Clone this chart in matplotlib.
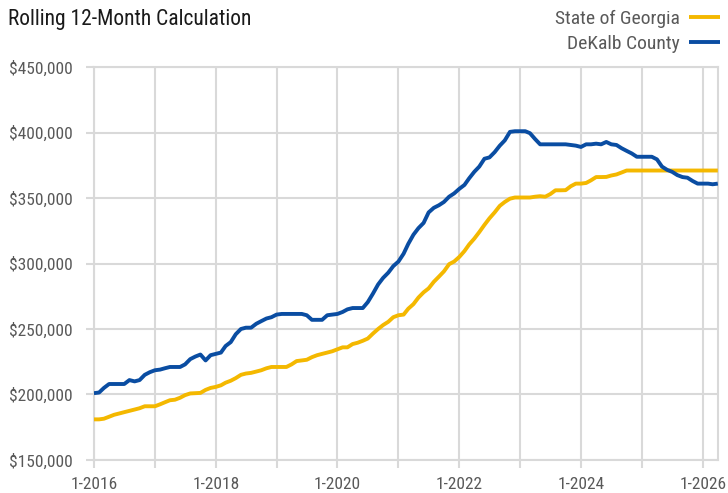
import matplotlib.pyplot as plt
import pandas as pd

plt.rcParams['font.family'] = ['Roboto Condensed', 'DejaVu Sans']

# monthly values, Jan 2016 .. Apr 2026 (in $1000)
dekalb = [201, 201.5, 205, 208, 208, 208, 208, 211, 210, 211, 215, 217,
          218.5, 219, 220, 221, 221, 221, 223, 227, 229, 230.5, 226, 230,
          231, 232, 237, 240, 246, 250, 251, 251, 254, 256, 258, 259,
          261, 261.5, 261.5, 261.5, 261.5, 261.5, 260.5, 257, 257, 257, 260.5, 261,
          261.5, 263, 265, 266, 266, 266, 270.5, 277, 284, 289, 293, 298,
          301.5, 307.5, 315, 322, 327, 331, 339, 342.5, 344.5, 347, 351, 353.5,
          357, 360, 365, 370, 374, 380, 381, 385, 390, 394, 400.5, 401,
          401, 401, 399.5, 395, 391, 391, 391, 391, 391, 391, 390.5, 390,
          389, 391, 391, 391.5, 391, 392.8, 391, 390.5, 388, 386, 384, 381.5,
          381.5, 381.5, 381.5, 379.5, 374, 371.5, 370, 367.5, 366, 365.5, 363, 361,
          361, 361, 360.5, 361]
georgia = [181, 181, 181.5, 183, 184.5, 185.5, 186.5, 187.5, 188.5, 189.5, 191, 191,
           191, 192.5, 194, 195.6, 196, 197.5, 199.5, 200.8, 201, 201.2, 203.5, 205,
           205.8, 207, 209, 210.5, 212.5, 215, 216, 216.5, 217.5, 218.5, 220, 221,
           221, 221, 221, 223, 225.5, 226, 226.5, 228.5, 230, 231, 232, 233,
           234.5, 236, 236, 238.5, 239.5, 241, 242.7, 246.5, 250, 253, 255.5, 259,
           260.5, 261, 265.5, 269, 274, 278, 281, 286, 290, 294, 299.5, 301.5,
           305, 309.5, 314.5, 319, 324, 329.5, 334.5, 339, 344, 347, 349.5, 350.4,
           350.4, 350.4, 350.4, 351, 351.4, 351, 353, 355.9, 355.9, 356, 359, 361,
           361, 361.5, 363.5, 366, 366, 366.1, 367.2, 368, 369.5, 371, 371, 371,
           371, 371, 371, 371, 371, 371, 371, 371, 371, 371, 371, 371,
           371, 371, 371, 371]
dates = pd.date_range('2016-01-01', periods=len(dekalb), freq='MS')
years = list(range(2016, 2027))
yticks = [150000, 200000, 250000, 300000, 350000, 400000, 450000]

grid_c = '#d9d9d9'
text_c = '#595959'

fig = plt.figure(figsize=(7.28, 4.93), dpi=100)
ax = fig.add_axes([0.129, 0.067, 0.857, 0.797])

ax.plot(dates, [v * 1000 for v in georgia], color='#F4B800', lw=2.8, label='State of Georgia',
        solid_capstyle='butt', zorder=3)
ax.plot(dates, [v * 1000 for v in dekalb], color='#0A4DA2', lw=2.8, label='DeKalb County',
        solid_capstyle='butt', zorder=4)

ax.set_xlim(dates[0], dates[-1])
ax.set_ylim(150000, 450000)
ax.set_yticks(yticks)
ax.set_yticklabels([f'${v:,.0f}' for v in yticks])
xt = [pd.Timestamp(f'{y}-01-01') for y in years]
ax.set_xticks(xt)
ax.set_xticklabels([f'1-{y}' if y % 2 == 0 else '' for y in years])

ax.grid(True, color=grid_c, lw=1.5)
ax.set_axisbelow(True)
for s in ax.spines.values():
    s.set_color(grid_c)
    s.set_linewidth(1.5)
ax.tick_params(axis='both', colors=grid_c, length=6, width=1.5, labelcolor=text_c, labelsize=12.5)
ax.tick_params(axis='y', pad=9.5)
ax.tick_params(axis='x', pad=6)

fig.text(0.011, 0.982, 'Rolling 12-Month Calculation', fontsize=15.5, color='#1a1a1a', va='top', ha='left')
fig.legend(loc='upper right', bbox_to_anchor=(1.013, 1.015), frameon=False, markerfirst=False,
           fontsize=14, labelcolor=text_c, handlelength=1.6, handletextpad=0.45, labelspacing=0.35)

fig.savefig('out.png', dpi=100)
